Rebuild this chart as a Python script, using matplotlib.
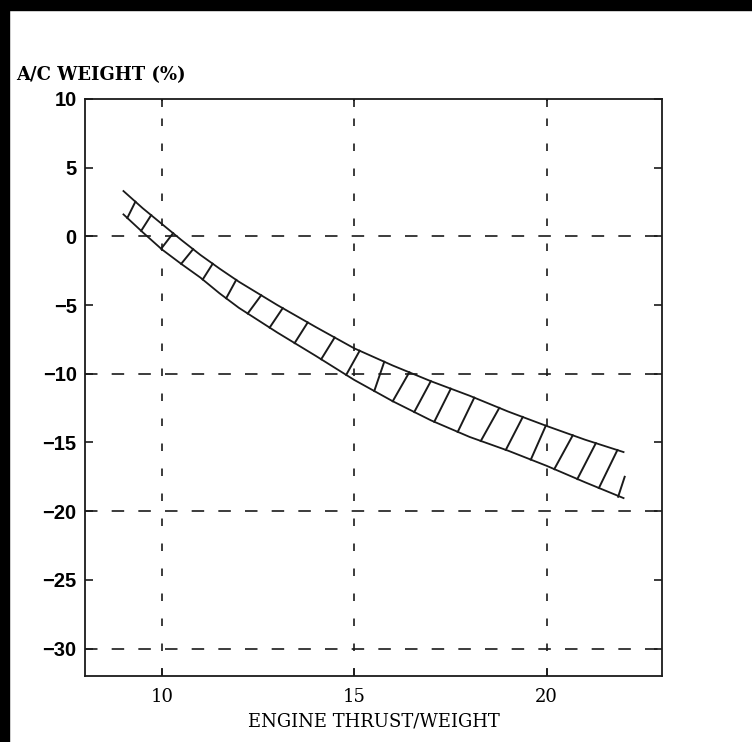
import numpy as np
import matplotlib
matplotlib.use("Agg")
import matplotlib.pyplot as plt
from matplotlib.patches import Rectangle

# band (engine T/W vs change in A/C weight, %)
thrust = [9.0, 9.5, 10.0, 10.5, 11.0, 11.5, 12.0, 13.0, 14.0, 15.0, 16.0,
          17.0, 18.0, 19.0, 20.0, 21.0, 22.0]
upper = [3.3, 2.05, 0.9, -0.25, -1.35, -2.35, -3.3, -5.0, -6.6, -8.15, -9.4,
         -10.55, -11.6, -12.75, -13.8, -14.8, -15.7]
lower = [1.6, 0.3, -0.95, -2.0, -3.0, -4.15, -5.2, -7.0, -8.7, -10.45, -12.0,
         -13.4, -14.6, -15.6, -16.7, -17.9, -19.05]

# hatch strokes: x where each stroke leaves the lower edge / meets the upper edge
hatch_lo_x = [9.10, 9.46, 9.98, 10.50, 11.06, 11.67, 12.23, 12.80, 13.45, 14.14,
              14.79, 15.52, 16.00, 16.56, 17.08, 17.69, 18.29, 18.94, 19.59,
              20.20, 20.80, 21.36]
hatch_hi_x = [9.31, 9.72, 10.29, 10.81, 11.32, 11.93, 12.58, 13.14, 13.79, 14.49,
              15.14, 15.78, 16.43, 16.99, 17.51, 18.12, 18.77, 19.38, 19.98,
              20.68, 21.28, 21.84]
# short stroke at the right end that stops half way
stub_x = [21.86, 22.03]
stub_y = [-18.95, -17.5]

x_ticks = [10, 15, 20]
y_ticks = [10, 5, 0, -5, -10, -15, -20, -25, -30]
x_grid = [10, 15, 20]
y_grid = [0, -10, -20, -30]

ink = "#1a1a1a"

fig = plt.figure(figsize=(7.52, 7.42), dpi=100)
ax = fig.add_axes([85 / 752, 1 - 676 / 742, 577 / 752, 577 / 742])

# scan frame (black edge at top and left)
fig.patches.append(Rectangle((0, 1 - 10 / 742), 1, 10 / 742, transform=fig.transFigure,
                             color="black", zorder=10))
fig.patches.append(Rectangle((0, 0), 9 / 752, 1, transform=fig.transFigure,
                             color="black", zorder=10))

# dashed grid
for gx in x_grid:
    ln = ax.axvline(gx, color=ink, lw=1.2, zorder=1)
    ln.set_dashes([4.5, 10.5])
for gy in y_grid:
    ln = ax.axhline(gy, color=ink, lw=1.2, zorder=1)
    ln.set_dashes([7.5, 8.5])

# band edges
ax.plot(thrust, upper, color=ink, lw=1.3, zorder=3)
ax.plot(thrust, lower, color=ink, lw=1.3, zorder=3)

# hatch strokes between the edges
lo_y = np.interp(hatch_lo_x, thrust, lower)
hi_y = np.interp(hatch_hi_x, thrust, upper)
for x0, y0, x1, y1 in zip(hatch_lo_x, lo_y, hatch_hi_x, hi_y):
    ax.plot([x0, x1], [y0, y1], color=ink, lw=1.4, zorder=3)
ax.plot(stub_x, stub_y, color=ink, lw=1.4, zorder=3)

ax.set_xlim(8, 23)
ax.set_ylim(-32, 10)
ax.set_xticks(x_ticks)
ax.set_yticks(y_ticks)
ax.set_yticklabels([str(v).replace("-", "\u2212") for v in y_ticks])

ax.tick_params(axis="both", direction="in", length=6, width=1.2, color=ink,
               top=True, right=True)
ax.tick_params(axis="y", pad=6)
ax.tick_params(axis="x", pad=9)
for lab in ax.get_yticklabels():
    lab.set_fontfamily("Liberation Sans")
    lab.set_fontweight("bold")
    lab.set_fontsize(14.5)
for lab in ax.get_xticklabels():
    lab.set_fontfamily("DejaVu Serif")
    lab.set_fontsize(13)

for sp in ax.spines.values():
    sp.set_color(ink)
    sp.set_linewidth(1.3)

ax.set_xlabel("ENGINE THRUST/WEIGHT", family="DejaVu Serif", fontsize=13,
              labelpad=4)
fig.text(16 / 752, 1 - 75 / 742, "A/C WEIGHT (%)", family="DejaVu Serif",
         fontsize=13, fontweight="bold", va="center", ha="left")

fig.savefig("out.png", dpi=100, facecolor="white")
